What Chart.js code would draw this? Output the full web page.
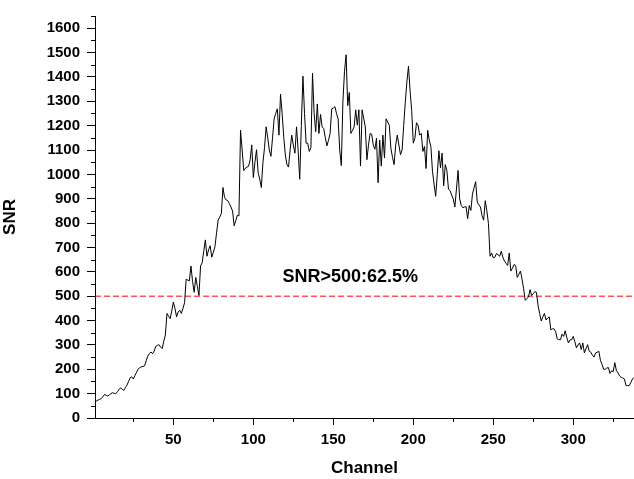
<!DOCTYPE html>
<html>
<head>
<meta charset="utf-8">
<script src="https://cdn.jsdelivr.net/npm/chart.js@4"></script>
<style>
  html, body { margin: 0; padding: 0; background: #fff; }
  #wrap { width: 634px; height: 479px; position: relative; }
</style>
</head>
<body>
<div id="wrap"><canvas id="snrChart"></canvas></div>
<script>
// SNR per channel
const snr = [
    66, 70, 74, 77, 80, 88, 97, 93, 90, 95,
    100, 104, 101, 100, 108, 116, 124, 118, 113, 125,
    135, 150, 165, 169, 160, 175, 188, 200, 207, 210,
    212, 214, 235, 254, 265, 271, 264, 275, 294, 298,
    301, 292, 285, 315, 341, 429, 418, 408, 440, 476,
    450, 415, 435, 442, 429, 450, 473, 570, 566, 563,
    624, 560, 516, 577, 540, 503, 624, 637, 684, 731,
    664, 690, 707, 660, 680, 704, 760, 812, 825, 839,
    946, 905, 895, 892, 880, 866, 850, 789, 810, 832,
    830, 1181, 1100, 1016, 1025, 1030, 1033, 1060, 1121, 987,
    1050, 1101, 1007, 980, 946, 1050, 1110, 1195, 1150, 1100,
    1074, 1150, 1228, 1250, 1269, 1161, 1329, 1250, 1154, 1080,
    1040, 1030, 1100, 1161, 1120, 1087, 1195, 1100, 980, 1200,
    1403, 1250, 1128, 1128, 1094, 1110, 1416, 1250, 1175, 1289,
    1168, 1246, 1195, 1188, 1150, 1117, 1140, 1168, 1269, 1272,
    1278, 1250, 1228, 1100, 1036, 1300, 1423, 1491, 1282, 1336,
    1168, 1180, 1195, 1265, 1202, 1265, 1034, 1265, 1230, 1195,
    1060, 1120, 1168, 1165, 1120, 1103, 1148, 966, 1141, 1034,
    1161, 1067, 1228, 1215, 1202, 1107, 1070, 1040, 1121, 1161,
    1120, 1081, 1100, 1200, 1296, 1380, 1444, 1343, 1262, 1128,
    1148, 1212, 1202, 1161, 1168, 1094, 1114, 1024, 1181, 1140,
    1114, 1013, 960, 910, 1000, 1097, 1027, 1087, 953, 1040,
    1016, 939, 933, 915, 899, 866, 940, 1016, 900, 872,
    863, 866, 868, 818, 872, 852, 919, 945, 970, 886,
    875, 866, 830, 812, 892, 850, 798, 664, 677, 657,
    660, 675, 670, 664, 684, 660, 644, 635, 626, 677,
    603, 615, 630, 626, 577, 590, 603, 570, 530, 483,
    490, 496, 527, 503, 510, 519, 516, 462, 429, 398,
    415, 429, 402, 410, 415, 362, 366, 366, 355, 325,
    322, 321, 344, 335, 358, 330, 308, 321, 321, 335,
    314, 288, 300, 308, 281, 308, 267, 285, 301, 274,
    270, 258, 250, 267, 270, 274, 237, 220, 200, 200,
    205, 207, 183, 194, 190, 227, 194, 185, 173, 167,
    164, 160, 133, 133, 133, 145, 160, 167
];
const channels = snr.map((_, i) => i + 1);

const threshold = 500;
const noteText = 'SNR>500:62.5%';
const notePos = [160.6, 577];

const xMajor = [50, 100, 150, 200, 250, 300];
const xMinor = [25, 75, 125, 175, 225, 275, 325];
const yMajor = [0, 100, 200, 300, 400, 500, 600, 700, 800, 900, 1000, 1100, 1200, 1300, 1400, 1500, 1600];
const yMinor = [50, 150, 250, 350, 450, 550, 650, 750, 850, 950, 1050, 1150, 1250, 1350, 1450, 1550, 1650];

const FONT = '"Liberation Sans", Arial, sans-serif';

// minor tick marks + the percentage note
const extras = {
    id: 'extras',
    afterDraw(chart) {
        const { ctx, scales: { x, y } } = chart;
        ctx.save();
        ctx.strokeStyle = '#000';
        ctx.lineWidth = 1;
        ctx.beginPath();
        xMinor.forEach(v => {
            const px = Math.round(x.getPixelForValue(v)) + 0.5;
            ctx.moveTo(px, x.top);
            ctx.lineTo(px, x.top + 4);
        });
        yMinor.forEach(v => {
            const py = Math.round(y.getPixelForValue(v)) + 0.5;
            ctx.moveTo(y.right, py);
            ctx.lineTo(y.right - 4, py);
        });
        ctx.stroke();

        ctx.font = 'bold 18px ' + FONT;
        ctx.fillStyle = '#000';
        ctx.textAlign = 'center';
        ctx.textBaseline = 'middle';
        ctx.fillText(noteText, x.getPixelForValue(notePos[0]), y.getPixelForValue(notePos[1]));
        ctx.restore();
    }
};

new Chart(document.getElementById('snrChart'), {
    type: 'line',
    data: {
        datasets: [
            {
                label: 'SNR',
                data: channels.map((c, i) => ({ x: c, y: snr[i] })),
                borderColor: '#000',
                borderWidth: 1,
                pointRadius: 0,
                tension: 0,
                fill: false
            },
            {
                label: 'threshold',
                data: [{ x: channels[0], y: threshold }, { x: channels[channels.length - 1], y: threshold }],
                borderColor: '#ff0000',
                borderWidth: 1,
                borderDash: [6, 3],
                pointRadius: 0,
                fill: false
            }
        ]
    },
    options: {
        responsive: true,
        maintainAspectRatio: false,
        animation: false,
        layout: { padding: { top: 8, right: 0, left: 0, bottom: 0 } },
        plugins: {
            legend: { display: false },
            tooltip: { enabled: false }
        },
        scales: {
            x: {
                type: 'linear',
                min: 1,
                max: 338,
                afterBuildTicks: s => { s.ticks = xMajor.map(v => ({ value: v })); },
                afterFit: s => { s.height = 61; },
                grid: { drawOnChartArea: false, drawTicks: true, tickLength: 7, color: '#000' },
                border: { display: true, color: '#000', width: 1 },
                ticks: { color: '#000', padding: 6, maxRotation: 0, callback: v => String(v), font: { family: FONT, size: 15, weight: 'bold' } },
                title: { display: true, text: 'Channel', color: '#000', padding: { top: 0, bottom: 0 }, font: { family: FONT, size: 17, weight: 'bold' } }
            },
            y: {
                min: 0,
                max: 1650,
                afterBuildTicks: s => { s.ticks = yMajor.map(v => ({ value: v })); },
                afterFit: s => { s.width = 95; },
                grid: { drawOnChartArea: false, drawTicks: true, tickLength: 8, color: '#000' },
                border: { display: true, color: '#000', width: 1 },
                ticks: { color: '#000', padding: 7, callback: v => String(v), font: { family: FONT, size: 15, weight: 'bold' } },
                title: { display: true, text: 'SNR', color: '#000', padding: { top: 0, bottom: 0 }, font: { family: FONT, size: 17, weight: 'bold' } }
            }
        }
    },
    plugins: [extras]
});
</script>
</body>
</html>
